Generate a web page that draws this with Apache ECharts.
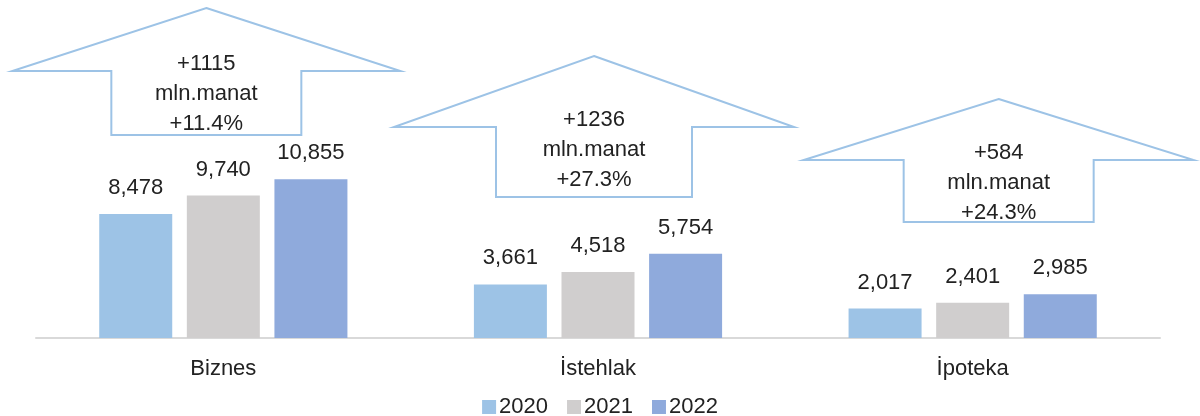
<!DOCTYPE html>
<html>
<head>
<meta charset="utf-8">
<script src="https://cdn.jsdelivr.net/npm/echarts@6/dist/echarts.min.js"></script>
<style>
  html, body { margin: 0; padding: 0; background: #fff; }
  #main { width: 1200px; height: 416px; }
</style>
</head>
<body>
<div id="main"></div>
<script>
var categories = ['Biznes', 'İstehlak', 'İpoteka'];
var years = ['2020', '2021', '2022'];
var values2020 = [8478, 3661, 2017];
var values2021 = [9740, 4518, 2401];
var values2022 = [10855, 5754, 2985];
// text inside the arrows
var growthAbs = ['+1115', '+1236', '+584'];
var growthPct = ['+11.4%', '+27.3%', '+24.3%'];

var colors = ['#9dc3e6', '#d0cece', '#8faadc'];
var font = 'Liberation Sans, Arial, sans-serif';

// arrow shape per group: dx from the category centre, tip y, wing y, shaft bottom y, half widths
var arrowLayout = [
	{ dx: -17, tip: 8, wing: 71, bottom: 135, head: 194, shaft: 95 },
	{ dx: -4, tip: 56, wing: 127, bottom: 197, head: 200, shaft: 98 },
	{ dx: 26, tip: 99, wing: 160, bottom: 222, head: 195, shaft: 95 }
];

var chart = echarts.init(document.getElementById('main'));

function barSeries(name, data, i) {
	return {
		name: name,
		type: 'bar',
		data: data,
		barWidth: 73,
		barGap: '20%',
		itemStyle: { color: colors[i] },
		label: {
			show: true,
			position: 'top',
			distance: 15,
			fontFamily: font,
			fontSize: 22,
			color: '#222',
			formatter: function (p) {
				return p.value.toLocaleString('en-US');
			}
		}
	};
}

var option = {
	animation: false,
	grid: { left: 36, right: 40, top: 0, bottom: 78 },
	legend: {
		data: years,
		left: 'center',
		top: 391,
		itemWidth: 14,
		itemHeight: 14,
		itemGap: 19,
		icon: 'rect',
		textStyle: { fontFamily: font, fontSize: 22, color: '#222', padding: [0, 0, 0, -2] }
	},
	xAxis: {
		type: 'category',
		data: categories,
		axisTick: { show: false },
		axisLine: { lineStyle: { color: '#d9d9d9', width: 2 } },
		axisLabel: { margin: 20, fontFamily: font, fontSize: 22, color: '#222' }
	},
	yAxis: {
		type: 'value',
		min: 0,
		max: 23100,
		show: false,
		splitLine: { show: false }
	},
	series: [
		barSeries(years[0], values2020, 0),
		barSeries(years[1], values2021, 1),
		barSeries(years[2], values2022, 2),
		{
			type: 'custom',
			silent: true,
			z: 5,
			data: categories.map(function (c, i) { return [i]; }),
			encode: { x: 0 },
			renderItem: function (params, api) {
				var i = params.dataIndex;
				var a = arrowLayout[i];
				var cx = api.coord([api.value(0), 0])[0] + a.dx;
				return {
					type: 'group',
					children: [
						{
							type: 'polygon',
							shape: {
								points: [
									[cx, a.tip],
									[cx + a.head, a.wing],
									[cx + a.shaft, a.wing],
									[cx + a.shaft, a.bottom],
									[cx - a.shaft, a.bottom],
									[cx - a.shaft, a.wing],
									[cx - a.head, a.wing]
								]
							},
							style: { fill: 'rgba(255,255,255,0)', stroke: '#9dc3e6', lineWidth: 2 }
						},
						{
							type: 'text',
							style: {
								x: cx,
								y: a.wing - 22,
								text: growthAbs[i] + '\nmln.manat\n' + growthPct[i],
								align: 'center',
								verticalAlign: 'top',
								lineHeight: 30,
								fontFamily: font,
								fontSize: 22,
								fill: '#222'
							}
						}
					]
				};
			}
		}
	]
};

chart.setOption(option);
</script>
</body>
</html>
